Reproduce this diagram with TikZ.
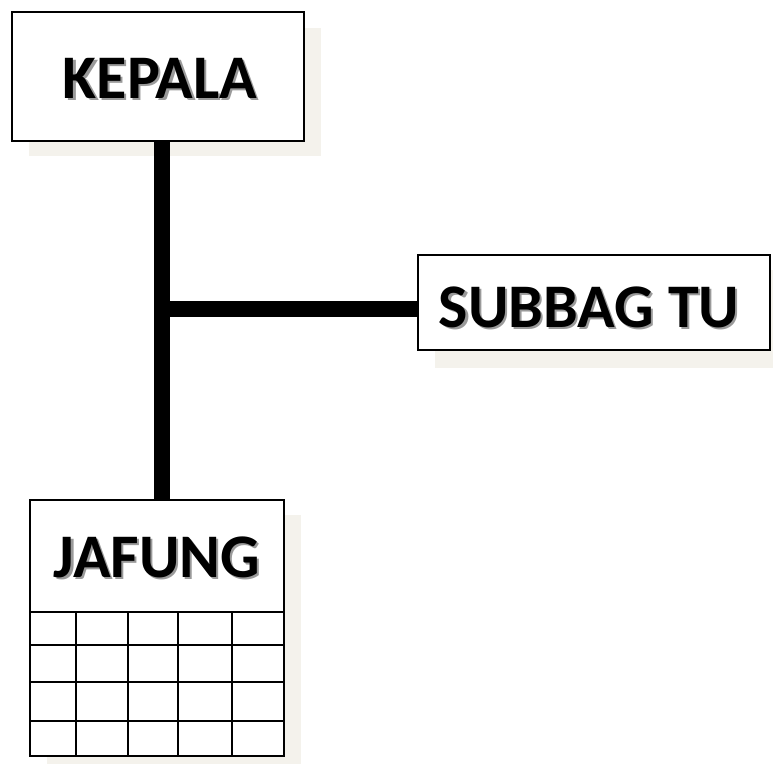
\documentclass[tikz,border=0pt]{standalone}
\usepackage{fontspec}
\setmainfont{Carlito}
\definecolor{shadowbg}{HTML}{F4F2EC}
\definecolor{txtshadow}{HTML}{9A9A9A}
\newcommand{\shtext}[1]{\makebox[0pt][l]{\hspace{2.2pt}\raisebox{-2.2pt}{\textcolor{txtshadow}{#1}}}#1}
\tikzset{
  box/.style={draw=black, line width=1.5pt, fill=white, rectangle, inner sep=0pt},
  boxshadow/.style={fill=shadowbg, draw=none},
  lbl/.style={font=\bfseries\fontsize{62}{62}\selectfont, inner sep=0pt},
  conn/.style={line width=16pt, draw=black},
  gridline/.style={line width=1.5pt, draw=black}
}
\begin{document}
\begin{tikzpicture}[x=1pt, y=-1pt]
  \useasboundingbox (0,0) rectangle (773,764);
  % shadows
  \fill[boxshadow] (29,28) rectangle (321,156);
  \fill[boxshadow] (435,270) rectangle (773,368);
  \fill[boxshadow] (47,515) rectangle (301,764);
  % boxes
  \node[box, minimum width=292pt, minimum height=129pt] (kepala) at (158,76.5) {};
  \node[box, minimum width=352pt, minimum height=95pt] (subbag) at (594,302.5) {};
  \node[box, minimum width=254pt, minimum height=112pt] (jafung) at (157,556) {};
  % grid under JAFUNG
  \node[box, minimum width=254pt, minimum height=144pt] (grid) at (157,684) {};
  \foreach \yy in {645,682,721} \draw[gridline] (30,\yy) -- (284,\yy);
  \foreach \xx in {76,128,178,232} \draw[gridline] (\xx,612) -- (\xx,756);
  % labels
  \node[lbl] (tk) at (160,79) {\shtext{KEPALA}};
  \node[lbl] (ts) at (589,308) {\shtext{SUBBAG TU}};
  \node[lbl] (tj) at (157,558) {\shtext{JAFUNG}};
  % connectors
  \coordinate (v) at (162,309);
  \draw[conn] (kepala.south -| v) -- (jafung.north -| v);
  \draw[conn] (v) -- (v -| subbag.west);
\end{tikzpicture}
\end{document}
